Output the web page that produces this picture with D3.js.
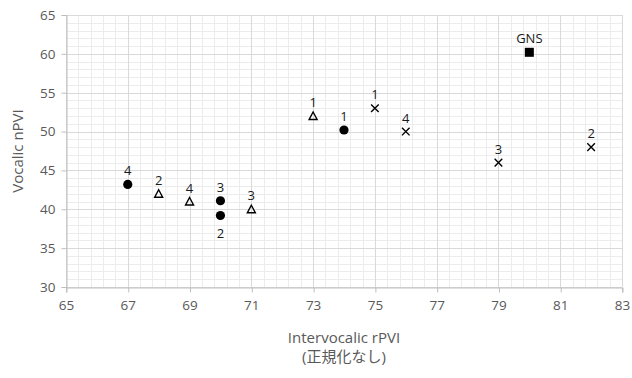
<!DOCTYPE html>
<html>
<head>
<meta charset="utf-8">
<script src="https://cdnjs.cloudflare.com/ajax/libs/d3/7.8.5/d3.min.js"></script>
<style>
  body { margin: 0; background: #fff; }
  svg text { font-family: "Open Sans", "Noto Sans CJK JP", sans-serif; }
</style>
</head>
<body>
<div id="chart"></div>
<script>
// series: filled circles, open triangles, crosses, square
var circleX = [74, 70, 70, 67],
    circleY = [50.2, 39.2, 41.1, 43.2],
    circleLabels = ['1', '2', '3', '4'];
var triangleX = [73, 68, 71, 69],
    triangleY = [52, 42, 40, 41],
    triangleLabels = ['1', '2', '3', '4'];
var crossX = [75, 82, 79, 76],
    crossY = [53, 48, 46, 50],
    crossLabels = ['1', '2', '3', '4'];
var squareX = [80],
    squareY = [60.2],
    squareLabels = ['GNS'];

var xTicks = [65, 67, 69, 71, 73, 75, 77, 79, 81, 83],
    yTicks = [30, 35, 40, 45, 50, 55, 60, 65];

var width = 632, height = 378;
var margin = {left: 66, right: 10, top: 15, bottom: 91};

var x = d3.scaleLinear().domain([65, 83]).range([margin.left, width - margin.right]);
var y = d3.scaleLinear().domain([30, 65]).range([height - margin.bottom, margin.top]);

var svg = d3.select('#chart').append('svg')
    .attr('width', width).attr('height', height);

// minor grid
var xMinor = d3.range(65, 83.001, 0.4), yMinor = d3.range(30, 65.001, 1);
svg.append('g').selectAll('line').data(xMinor).enter().append('line')
    .attr('x1', function(d){ return Math.round(x(d)) + 0.5; })
    .attr('x2', function(d){ return Math.round(x(d)) + 0.5; })
    .attr('y1', y(30)).attr('y2', y(65))
    .attr('stroke', '#ececec');
svg.append('g').selectAll('line').data(yMinor).enter().append('line')
    .attr('y1', function(d){ return Math.round(y(d)) + 0.5; })
    .attr('y2', function(d){ return Math.round(y(d)) + 0.5; })
    .attr('x1', x(65)).attr('x2', x(83))
    .attr('stroke', '#ececec');

// major grid
svg.append('g').selectAll('line').data(xTicks).enter().append('line')
    .attr('x1', function(d){ return Math.round(x(d)) + 0.5; })
    .attr('x2', function(d){ return Math.round(x(d)) + 0.5; })
    .attr('y1', y(30)).attr('y2', y(65))
    .attr('stroke', '#d9d9d9');
svg.append('g').selectAll('line').data(yTicks).enter().append('line')
    .attr('y1', function(d){ return Math.round(y(d)) + 0.5; })
    .attr('y2', function(d){ return Math.round(y(d)) + 0.5; })
    .attr('x1', x(65)).attr('x2', x(83))
    .attr('stroke', '#d9d9d9');

// axes
var xAxis = svg.append('g')
    .attr('transform', 'translate(0,' + (Math.round(y(30)) + 0.5) + ')')
    .call(d3.axisBottom(x).tickValues(xTicks).tickSize(5).tickPadding(8));
var yAxis = svg.append('g')
    .attr('transform', 'translate(' + (Math.round(x(65)) + 0.5) + ',0)')
    .call(d3.axisLeft(y).tickValues(yTicks).tickSize(5).tickPadding(6));
[xAxis, yAxis].forEach(function(a){
    a.select('.domain').attr('stroke', '#bfbfbf');
    a.selectAll('.tick line').attr('stroke', '#bfbfbf');
    a.selectAll('.tick text').attr('fill', '#595959').style('font-size', '13.5px');
});
xAxis.selectAll('.tick line').attr('transform', 'translate(0.5,0)');

// axis titles
svg.append('text').attr('x', 344).attr('y', 343)
    .attr('text-anchor', 'middle').attr('fill', '#595959')
    .style('font-size', '15px').text('Intervocalic rPVI');
svg.append('text').attr('x', 344).attr('y', 362)
    .attr('text-anchor', 'middle').attr('fill', '#595959')
    .style('font-size', '15px').text('(正規化なし)');
svg.append('text')
    .attr('transform', 'translate(23,' + y(47.5) + ')rotate(-90)')
    .attr('text-anchor', 'middle').attr('fill', '#595959')
    .style('font-size', '15px').text('Vocalic nPVI');

function toPoints(xs, ys, labels){
    return xs.map(function(v, i){ return {x: v, y: ys[i], label: labels[i]}; });
}

var marks = svg.append('g');

// circles
var circles = toPoints(circleX, circleY, circleLabels);
marks.selectAll('circle').data(circles).enter().append('circle')
    .attr('cx', function(d){ return x(d.x); })
    .attr('cy', function(d){ return y(d.y); })
    .attr('r', 4.6).attr('fill', '#000');

// triangles
var triangles = toPoints(triangleX, triangleY, triangleLabels);
marks.selectAll('path.tri').data(triangles).enter().append('path')
    .attr('class', 'tri')
    .attr('d', function(d){
        var cx = x(d.x), cy = y(d.y);
        return 'M' + cx + ',' + (cy - 4) + 'L' + (cx + 4) + ',' + (cy + 3.5) + 'L' + (cx - 4) + ',' + (cy + 3.5) + 'Z';
    })
    .attr('fill', 'none').attr('stroke', '#000').attr('stroke-width', 1.4);

// crosses
var crosses = toPoints(crossX, crossY, crossLabels);
marks.selectAll('path.cross').data(crosses).enter().append('path')
    .attr('class', 'cross')
    .attr('d', function(d){
        var cx = x(d.x), cy = y(d.y), s = 3.8;
        return 'M' + (cx - s) + ',' + (cy - s) + 'L' + (cx + s) + ',' + (cy + s) +
               'M' + (cx + s) + ',' + (cy - s) + 'L' + (cx - s) + ',' + (cy + s);
    })
    .attr('stroke', '#000').attr('stroke-width', 1.4);

// square
var squares = toPoints(squareX, squareY, squareLabels);
marks.selectAll('rect').data(squares).enter().append('rect')
    .attr('x', function(d){ return x(d.x) - 4.5; })
    .attr('y', function(d){ return y(d.y) - 4.5; })
    .attr('width', 9).attr('height', 9).attr('fill', '#000');

// data labels
var all = circles.concat(triangles, crosses, squares);
marks.selectAll('text.lbl').data(all).enter().append('text')
    .attr('class', 'lbl')
    .attr('x', function(d){ return x(d.x); })
    .attr('y', function(d){
        // circle "2" at (70, 39.2) sits below its marker
        if(d.x === 70 && d.y === 39.2) return y(d.y) + 22;
        return y(d.y) - 9;
    })
    .attr('text-anchor', 'middle').attr('fill', '#1a1a1a')
    .style('font-size', '13px')
    .text(function(d){ return d.label; });
</script>
</body>
</html>
